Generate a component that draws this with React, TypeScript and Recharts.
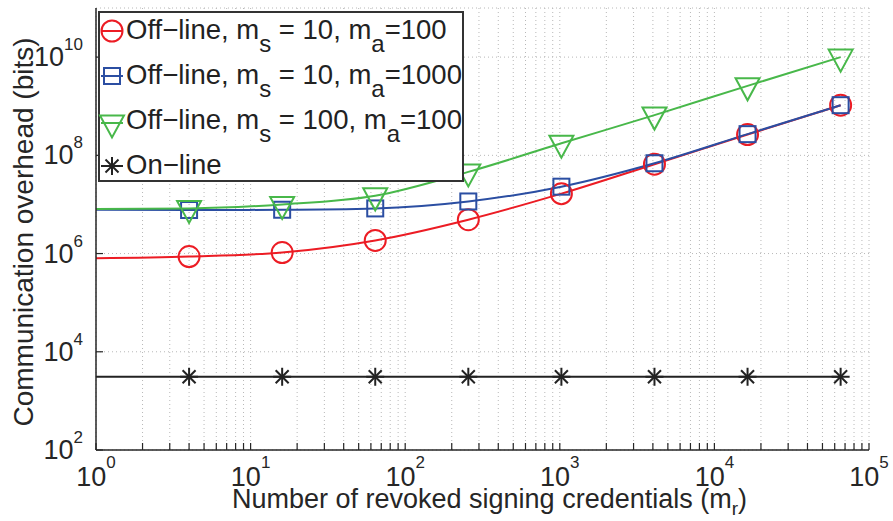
import React from "react";
import { CartesianGrid, Legend, Line, LineChart, XAxis, YAxis } from "recharts";

// revoked signing credentials (m_r)
const mr = [1, 4, 16, 64, 256, 1024, 4096, 16384, 65536];

// communication overhead in bits
const offMs10Ma100 = [8.0e5, 8.7e5, 1.05e6, 1.85e6, 4.9e6, 1.66e7, 6.6e7, 2.65e8, 1.05e9];
const offMs10Ma1000 = [7.8e6, 7.7e6, 7.8e6, 8.3e6, 1.15e7, 2.3e7, 6.9e7, 2.7e8, 1.05e9];
const offMs100Ma100 = [8.1e6, 8.3e6, 1.0e7, 1.5e7, 4.6e7, 1.76e8, 6.6e8, 2.6e9, 1.0e10];
const onLine = [3.1e3, 3.1e3, 3.1e3, 3.1e3, 3.1e3, 3.1e3, 3.1e3, 3.1e3, 3.1e3];

const xTicks = [
  1, 2, 3, 4, 5, 6, 7, 8, 9,
  10, 20, 30, 40, 50, 60, 70, 80, 90,
  100, 200, 300, 400, 500, 600, 700, 800, 900,
  1000, 2000, 3000, 4000, 5000, 6000, 7000, 8000, 9000,
  10000, 20000, 30000, 40000, 50000, 60000, 70000, 80000, 90000,
  100000,
];
const yTicks = [1e2, 1e4, 1e6, 1e8, 1e10];

const RED = "#ec1c24";
const BLUE = "#2b4ea2";
const GREEN = "#48b84a";
const BLACK = "#222222";
const AXIS = "#262626";
const FONT = "'Liberation Sans', Arial, Helvetica, sans-serif";

const data = mr.map((m, i) => ({
  m,
  red: offMs10Ma100[i],
  blue: offMs10Ma1000[i],
  green: offMs100Ma100[i],
  online: onLine[i],
}));

type Kind = "circle" | "square" | "triangle" | "star";

function Marker({ kind, cx, cy, color }: { kind: Kind; cx: number; cy: number; color: string }) {
  const sw = 2;
  if (kind === "circle") return <circle cx={cx} cy={cy} r={10.5} fill="none" stroke={color} strokeWidth={sw} />;
  if (kind === "square")
    return <rect x={cx - 8} y={cy - 8} width={16} height={16} fill="none" stroke={color} strokeWidth={sw} />;
  if (kind === "triangle")
    return (
      <polygon
        points={`${cx - 12},${cy - 7.5} ${cx + 12},${cy - 7.5} ${cx},${cy + 14.5}`}
        fill="none"
        stroke={color}
        strokeWidth={sw}
        strokeLinejoin="miter"
      />
    );
  return (
    <g stroke={color} strokeWidth={sw}>
      <line x1={cx} y1={cy - 9} x2={cx} y2={cy + 9} />
      <line x1={cx - 9} y1={cy} x2={cx + 9} y2={cy} />
      <line x1={cx - 6.5} y1={cy - 6.5} x2={cx + 6.5} y2={cy + 6.5} />
      <line x1={cx - 6.5} y1={cy + 6.5} x2={cx + 6.5} y2={cy - 6.5} />
    </g>
  );
}

// markers at every point except m_r = 1, where the curves only start
const dotFor = (kind: Kind, color: string) => (props: any) => {
  const { cx, cy, index } = props;
  if (index === 0 || cx == null || cy == null) return <g key={`d-${kind}-${index}`} />;
  return (
    <g key={`d-${kind}-${index}`}>
      <Marker kind={kind} cx={cx} cy={cy} color={color} />
    </g>
  );
};

const XTick = (props: any) => {
  const { x, y, payload } = props;
  const v = payload.value as number;
  const exp = Math.round(Math.log10(v));
  const major = Math.abs(Math.pow(10, exp) - v) < 1e-9;
  return (
    <g>
      <line x1={x} x2={x} y1={y} y2={y - 7} stroke={AXIS} strokeWidth={1.2} />
      {major && (
        <text x={x} y={y + 36} textAnchor="middle" fontFamily={FONT} fontSize={27} fill={AXIS}>
          10
          <tspan dy={-18} fontSize={17}>
            {exp}
          </tspan>
        </text>
      )}
    </g>
  );
};

const YTick = (props: any) => {
  const { x, y, payload } = props;
  const exp = Math.round(Math.log10(payload.value as number));
  return (
    <g>
      <line x1={x} x2={x + 7} y1={y} y2={y} stroke={AXIS} strokeWidth={1.2} />
      <text x={x - 13} y={y + 9} textAnchor="end" fontFamily={FONT} fontSize={27} fill={AXIS}>
        10
        <tspan dy={-16} fontSize={17}>
          {exp}
        </tspan>
      </text>
    </g>
  );
};

const legendRows: { kind: Kind; color: string; head: string; ms?: string; ma?: string }[] = [
  { kind: "circle", color: RED, head: "Off\u2212line, m", ms: " = 10, m", ma: "=100" },
  { kind: "square", color: BLUE, head: "Off\u2212line, m", ms: " = 10, m", ma: "=1000" },
  { kind: "triangle", color: GREEN, head: "Off\u2212line, m", ms: " = 100, m", ma: "=100" },
  { kind: "star", color: BLACK, head: "On\u2212line" },
];

const LegendBox = () => (
  <svg width={366} height={171} style={{ display: "block" }}>
    <rect x={1} y={1} width={364} height={169} fill="#fff" stroke="#333" strokeWidth={2} />
    {legendRows.map((r, i) => {
      const base = 28 + 45 * i;
      const my = r.kind === "triangle" ? base - 6 : base - 8;
      return (
        <g key={i}>
          <line x1={3} x2={25} y1={my} y2={my} stroke={r.color} strokeWidth={2} />
          <Marker kind={r.kind} cx={14} cy={my} color={r.color} />
          <text x={28} y={base} fontFamily={FONT} fontSize={27.5} fill={BLACK}>
            {r.head}
            {r.ms && (
              <>
                <tspan dy={13} fontSize={24}>s</tspan>
                <tspan dy={-13}>{r.ms}</tspan>
                <tspan dy={13} fontSize={24}>a</tspan>
                <tspan dy={-13}>{r.ma}</tspan>
              </>
            )}
          </text>
        </g>
      );
    })}
  </svg>
);

export default function App() {
  return (
    <div style={{ position: "absolute", left: 0, top: 0, background: "#fff" }}>
      <LineChart width={893} height={521} data={data} margin={{ top: 8, right: 24, bottom: 0, left: 0 }}>
        <CartesianGrid stroke="#b8b8b8" strokeDasharray="1 3" />
        <XAxis
          dataKey="m"
          type="number"
          scale="log"
          domain={[1, 100000]}
          allowDataOverflow
          ticks={xTicks}
          interval={0}
          height={71}
          tickSize={0}
          tickMargin={0}
          tickLine={false}
          stroke={AXIS}
          strokeWidth={1.5}
          tick={<XTick />}
          label={{
            content: (p: any) => {
              const vb = p.viewBox;
              return (
                <text x={vb.x + vb.width / 2 + 7} y={vb.y + 58} textAnchor="middle" fontFamily={FONT} fontSize={27} fill={AXIS}>
                  Number of revoked signing credentials (m
                  <tspan dy={7} fontSize={19}>r</tspan>
                  <tspan dy={-7}>)</tspan>
                </text>
              );
            },
          }}
        />
        <YAxis
          type="number"
          scale="log"
          domain={[100, 1e11]}
          allowDataOverflow
          ticks={yTicks}
          interval={0}
          width={96}
          tickSize={0}
          tickMargin={0}
          tickLine={false}
          stroke={AXIS}
          strokeWidth={1.5}
          tick={<YTick />}
          label={{
            content: (p: any) => {
              const vb = p.viewBox;
              const cy = vb.y + vb.height / 2 + 3;
              return (
                <text
                  x={33}
                  y={cy}
                  transform={`rotate(-90 33 ${cy})`}
                  textAnchor="middle"
                  fontFamily={FONT}
                  fontSize={28}
                  fill={AXIS}
                >
                  Communication overhead (bits)
                </text>
              );
            },
          }}
        />
        <Legend
          layout="vertical"
          align="center"
          verticalAlign="middle"
          content={() => <LegendBox />}
          wrapperStyle={{ left: 98, top: 11, width: 366, height: 171 }}
        />
        <Line type="monotone" dataKey="online" stroke={BLACK} strokeWidth={2} dot={dotFor("star", BLACK)} isAnimationActive={false} />
        <Line type="monotone" dataKey="red" stroke={RED} strokeWidth={2} dot={dotFor("circle", RED)} isAnimationActive={false} />
        <Line type="monotone" dataKey="blue" stroke={BLUE} strokeWidth={2} dot={dotFor("square", BLUE)} isAnimationActive={false} />
        <Line type="monotone" dataKey="green" stroke={GREEN} strokeWidth={2} dot={dotFor("triangle", GREEN)} isAnimationActive={false} />
      </LineChart>
    </div>
  );
}
